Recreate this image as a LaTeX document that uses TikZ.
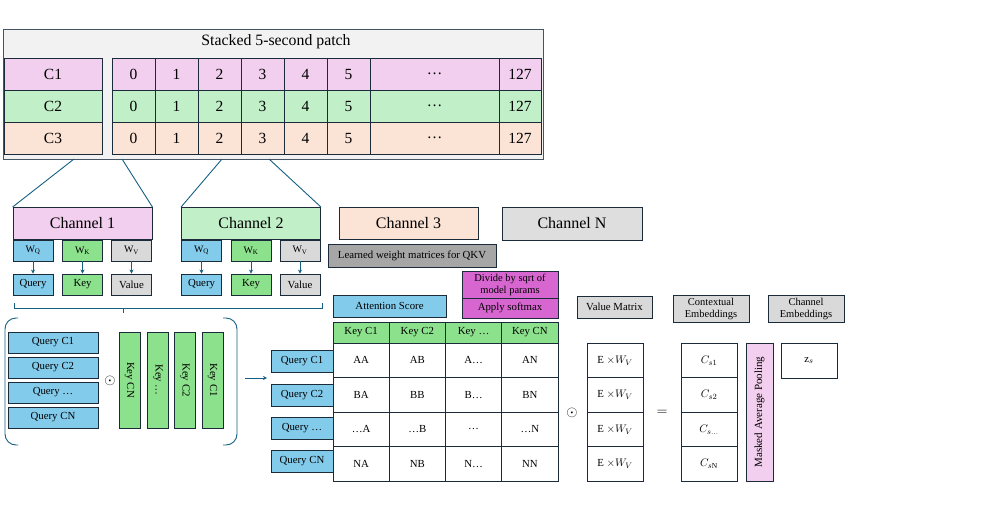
\documentclass[tikz,border=0pt]{standalone}
\usepackage{fontspec}
\setmainfont{Liberation Serif}
\usetikzlibrary{arrows.meta}
\definecolor{cedge}{RGB}{28,43,58}
\definecolor{cframe}{RGB}{70,84,100}
\definecolor{clink}{RGB}{21,96,130}
\definecolor{cpatch}{RGB}{242,242,242}
\definecolor{cpink}{RGB}{242,207,238}
\definecolor{cgreen}{RGB}{193,240,200}
\definecolor{cpeach}{RGB}{251,227,214}
\definecolor{cquery}{RGB}{131,203,235}
\definecolor{ckey}{RGB}{140,225,140}
\definecolor{cvalue}{RGB}{217,217,217}
\definecolor{cnoise}{RGB}{222,222,222}
\definecolor{cdark}{RGB}{166,166,166}
\definecolor{cmag}{RGB}{216,102,208}
\tikzset{
  px/.style={x=1pt,y=-1pt},
  box/.style={draw=cedge,line width=0.9pt,inner sep=0pt,align=center,font=\fontsize{10.8}{12}\selectfont},
  bigbox/.style={box,font=\fontsize{15.5}{17}\selectfont},
  chanbox/.style={box,minimum width=139,minimum height=32,font=\fontsize{16}{18}\selectfont},
  wbox/.style={box,minimum width=40,minimum height=21,font=\fontsize{10}{11}\selectfont},
  cellw/.style={box,fill=white,minimum width=56.25,minimum height=34.5},
  link/.style={clink,line width=0.9pt},
  tip/.style={-{Stealth[length=4pt,width=4pt]}},
}

\begin{document}
\begin{tikzpicture}[px]
  \useasboundingbox (0,0) rectangle (1000,525);
  % stacked 5-second patch
  \node[draw=cframe,fill=cpatch,line width=0.9pt,minimum width=540,minimum height=130,anchor=north west] (patch) at (3,29) {};
  \node[font=\fontsize{15.8}{17}\selectfont] (title) at (276,42) {Stacked 5-second patch};
  \foreach \r/\fc in {1/cpink,2/cgreen,3/cpeach}{
    \node[bigbox,fill=\fc,minimum width=98,minimum height=32] (c\r) at (53,{42+32*\r}) {C\r};
    \foreach \k in {0,...,5}
      \node[bigbox,fill=\fc,minimum width=43,minimum height=32] (c\r-\k) at ({133.5+43*\k},{42+32*\r}) {\k};
    \node[bigbox,fill=\fc,minimum width=129,minimum height=32] (c\r-dots) at (434.5,{42+32*\r}) {\dots};
    \node[bigbox,fill=\fc,minimum width=42,minimum height=32] (c\r-end) at (520,{42+32*\r}) {127};
  }
  \coordinate (s1a) at (74,159);
  \coordinate (s1b) at (122,159);
  \coordinate (s2a) at (222,159);
  \coordinate (s2b) at (269,159);

  % channels
  \node[chanbox,fill=cpink] (ch1) at (82.5,223.5) {Channel 1};
  \node[chanbox,fill=cgreen] (ch2) at (251,223.5) {Channel 2};
  \node[chanbox,fill=cpeach] (ch3) at (408.5,223) {Channel 3};
  \node[chanbox,fill=cnoise,minimum width=140,minimum height=33] (chN) at (572,223.5) {Channel N};
  \draw[link] (s1a) -- (ch1.north west) (s1b) -- (ch1.north east);
  \draw[link] (s2a) -- (ch2.north west) (s2b) -- (ch2.north east);

  \foreach \c/\cx in {1/82.5,2/251}{
    \node[wbox,fill=cquery] (wq\c) at ({\cx-49.5},250.5) {W\textsubscript{Q}};
    \node[wbox,fill=ckey] (wk\c) at (\cx,250.5) {W\textsubscript{K}};
    \node[wbox,fill=cvalue] (wv\c) at ({\cx+49},250.5) {W\textsubscript{V}};
    \node[wbox,fill=cquery,font=\fontsize{10.8}{12}\selectfont] (q\c) at ({\cx-49.5},284.5) {Query};
    \node[wbox,fill=ckey,font=\fontsize{10.8}{12}\selectfont] (k\c) at (\cx,284.5) {Key};
    \node[wbox,fill=cvalue,font=\fontsize{10.8}{12}\selectfont] (v\c) at ({\cx+49},284.5) {Value};
    \draw[link,tip] (wq\c) -- (q\c);
    \draw[link,tip] (wk\c) -- (k\c);
    \draw[link,tip] (wv\c) -- (v\c);
  }
  \node[box,fill=cdark,minimum width=168,minimum height=23] (learned) at (412,255.5) {Learned weight matrices for QKV};

  % query x key
  \draw[link] (14,303) -- (14,308) -- (322,308) -- (322,303);
  \draw[link] (123,308) -- (123,313);
  \draw[link,rounded corners=11pt] (18,318) -- (5,318) -- (5,445) -- (18,445);
  \draw[link,rounded corners=11pt] (223,318) -- (237,318) -- (237,445) -- (223,445);
  \foreach \i/\t in {1/C1,2/C2,3/\dots,4/CN}
    \node[box,fill=cquery,minimum width=90,minimum height=21] (ql\i) at (53,{317.5+25*\i}) {Query \t};
  \node[font=\fontsize{15}{15}\selectfont,inner sep=0pt] (dot1) at (110,381) {$\odot$};
  \foreach \i/\kx/\t in {1/129.5/CN,2/158/\dots,3/185/C2,4/212.5/C1}
    \node[box,fill=ckey,rotate=-90,minimum width=96,minimum height=21] (kc\i) at (\kx,380) {Key \t};
  \coordinate (aS) at (245,378);
  \coordinate (aE) at (267,378);
  \draw[link,tip] (aS) -- (aE);

  % attention score matrix
  \node[box,fill=cquery,minimum width=113,minimum height=22] (att) at (389.5,306) {Attention Score};
  \node[box,fill=cmag,minimum width=96,minimum height=27,font=\fontsize{10.5}{12}\selectfont] (divide) at (510,284.5) {Divide by sqrt of\\model params};
  \node[box,fill=cmag,minimum width=96,minimum height=20] (softmax) at (510,308) {Apply softmax};
  \foreach \j/\t in {1/C1,2/C2,3/\dots,4/CN}
    \node[box,fill=ckey,minimum width=56.25,minimum height=21] (kh\j) at ({304.875+56.25*\j},332.5) {Key \t};
  \foreach \i/\ta/\tb/\tc/\td in {1/AA/AB/A\dots/AN,2/BA/BB/B\dots/BN,3/\dots A/\dots B/\dots/\dots N,4/NA/NB/N\dots/NN}{
    \node[cellw] (m\i-1) at (361.125,{325.75+34.5*\i}) {\ta};
    \node[cellw] (m\i-2) at (417.375,{325.75+34.5*\i}) {\tb};
    \node[cellw] (m\i-3) at (473.625,{325.75+34.5*\i}) {\tc};
    \node[cellw] (m\i-4) at (529.875,{325.75+34.5*\i}) {\td};
  }
  \foreach \i/\t/\qy in {1/C1/361,2/C2/395,3/\dots/428.5,4/CN/461}
    \node[box,fill=cquery,minimum width=62,minimum height=22] (qr\i) at (302,\qy) {Query \t};

  % values and embeddings
  \node[box,fill=cvalue,minimum width=75,minimum height=22] (vmat) at (614.5,307) {Value Matrix};
  \node[box,fill=cvalue,minimum width=76,minimum height=27,font=\fontsize{10.5}{12}\selectfont] (ctx) at (711,308.5) {Contextual\\Embeddings};
  \node[box,fill=cvalue,minimum width=76,minimum height=27,font=\fontsize{10.5}{12}\selectfont] (chemb) at (806,308.5) {Channel\\Embeddings};
  \node[font=\fontsize{15}{15}\selectfont,inner sep=0pt] (dot2) at (572,413) {$\odot$};
  \foreach \i in {1,...,4}
    \node[cellw,minimum width=56] (vm\i) at (615,{326+34.5*\i}) {E $\times W_V$};
  \node[font=\fontsize{15}{15}\selectfont,inner sep=0pt] (eq) at (662,413) {$=$};
  \foreach \i/\t in {1/1,2/2,3/\ldots,4/\mathrm{N}}
    \node[cellw,minimum width=56] (cs\i) at (709,{326+34.5*\i}) {$C_{s\t}$};
  \node[box,fill=cpink,rotate=90,minimum width=138,minimum height=27,font=\fontsize{11}{12}\selectfont] (pool) at (759.5,412) {Masked Average Pooling};
  \node[cellw,minimum width=56,minimum height=35] (zs) at (809,360.5) {$\mathrm{z}_s$};
\end{tikzpicture}
\end{document}
